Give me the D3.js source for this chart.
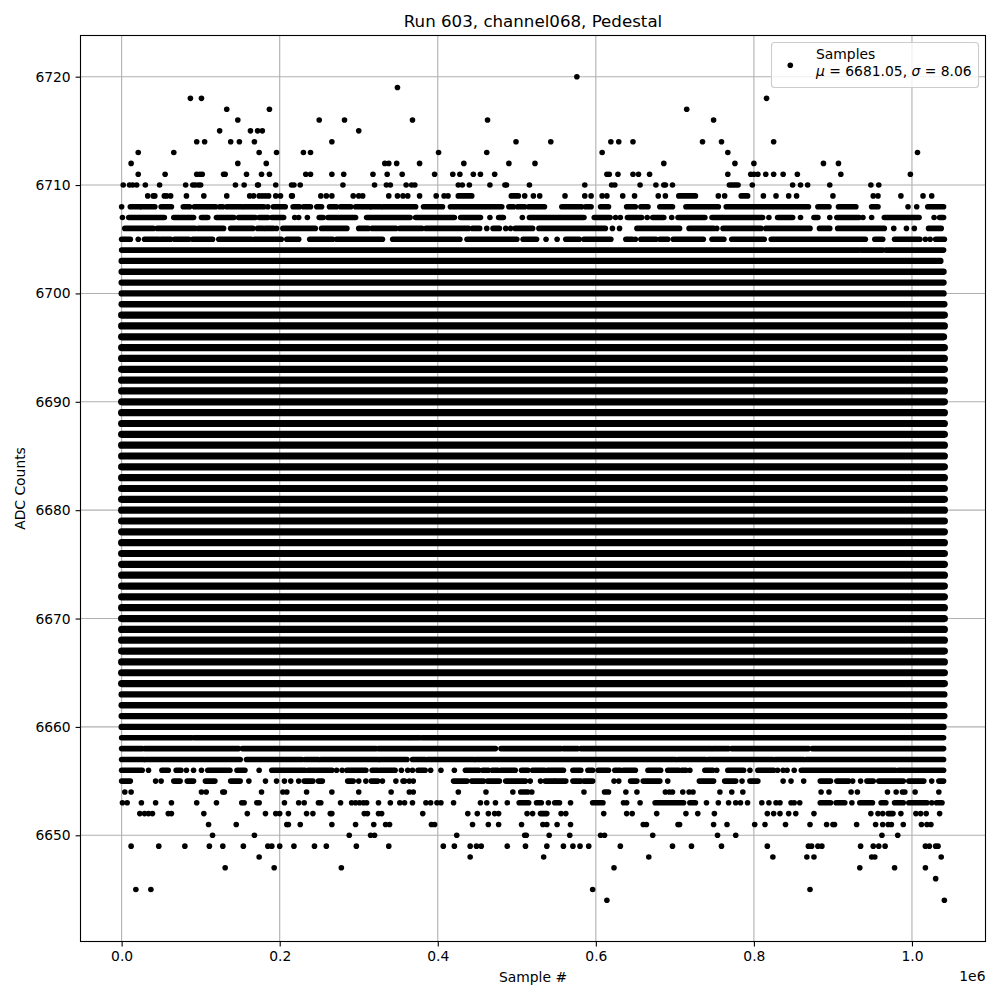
<!DOCTYPE html>
<html>
<head>
<meta charset="utf-8">
<script src="https://cdn.jsdelivr.net/npm/d3@7"></script>
<style>
  body { margin: 0; background: #fff; }
  text { font-family: "DejaVu Sans"; fill: #000; }
</style>
</head>
<body>
<div id="chart"></div>
<script>
// sample positions are in thousands of samples
var xTicks = [0, 200, 400, 600, 800, 1000];
var xTickLabels = ['0.0', '0.2', '0.4', '0.6', '0.8', '1.0'];
var yTicks = [6650, 6660, 6670, 6680, 6690, 6700, 6710, 6720];
var xLimits = [-52.05, 1093.05];
var yLimits = [6640.2, 6723.8];

var titleText = 'Run 603, channel068, Pedestal';
var xLabel = 'Sample #';
var yLabel = 'ADC Counts';
var seriesName = 'Samples';

// levels where the samples merge into a solid band: [level, first, last]
var solidRows = [
  [6703, 0, 1036], [6702, 0, 1040], [6701, 0, 1040], [6700, 0, 1040],
  [6699, 0, 1041], [6698, 0, 1041], [6697, 0, 1041], [6696, 0, 1040],
  [6695, 0, 1041], [6694, 0, 1041], [6693, 0, 1041], [6692, 0, 1041],
  [6691, 0, 1041], [6690, 0, 1041], [6689, 0, 1041], [6688, 0, 1041],
  [6687, 0, 1041], [6686, 0, 1041], [6685, 0, 1041], [6684, 0, 1041],
  [6683, 0, 1041], [6682, 0, 1041], [6681, 0, 1041], [6680, 0, 1041],
  [6679, 0, 1041], [6678, 0, 1041], [6677, 0, 1041], [6676, 0, 1041],
  [6675, 0, 1041], [6674, 0, 1041], [6673, 0, 1041], [6672, 0, 1041],
  [6671, 0, 1041], [6670, 0, 1041], [6669, 0, 1041], [6668, 0, 1041],
  [6667, 0, 1041], [6666, 0, 1041], [6665, 0, 1041], [6664, 0, 1041],
  [6663, 0, 1041], [6662, 0, 1041], [6661, 0, 1041], [6660, 0, 1040]
];

// rows on the fringe: a number is one sample, a pair is a run of touching samples
var upperRows = [
  [6720, [576]],
  [6719, [349]],
  [6718, [87, 101, 816]],
  [6717, [133, 187, 715]],
  [6716, [147, 250, 282, 368, 463, 749]],
  [6715, [124, 163, 172, 178, 300]],
  [6714, [95, 105, 138, 149, 168, 266, 499, 543, 619, 629, 647, 735, 759, 825]],
  [6713, [21, 66, 174, 196, 230, 239, 401, 462, 608, 767, 1007]],
  [6712, [12, 147, 183, 333, 338, 348, 377, 433, 490, 523, 686, 776, 800, 888, 907]],
  [6711, [21, 55, 95, 99, 102, 129, 131, 158, 177, 187, 233, 239, 266, 281, 318, 336, 355, 396, 419, 428, 445, 454, 472, 614, 617, 628, 647, 654, 668, 767, 796, 800, 805, 815, 825, 837, 855, 910, 998]],
  [6710, [2, 10, 14, 19, 30, 48, 81, 90, 93, 97, 100, 144, 155, 172, 173, 195, 215, 218, 226, 280, 320, 335, 340, 360, 367, 371, 426, 431, 440, 466, 485, 487, 516, 586, 620, 624, 656, 676, 686, 688, 697, [769, 780], 798, 849, 859, 868, 896, 948, 958]],
  [6709, [33, 40, 42, 54, 57, 62, 82, 104, 133, 162, 167, 174, 178, 182, 186, 195, 201, 215, 216, 252, 259, 266, 293, 300, 305, 338, 349, 356, 362, 377, 398, 408, 413, [426, 443], [493, 502], 510, 521, 529, 561, 586, 594, 608, 614, 634, 649, 679, 688, [705, 726], 755, 763, [784, 792], 812, 828, 844, 854, 900, 951, 957, 986, 1014, 1025]],
  [6708, [0, [11, 23], [25, 42], [50, 63], [78, 86], [92, 119], [124, 128], [133, 152], [155, 180], 185, [192, 207], [217, 225], [230, 239], [247, 253], [263, 272], [277, 290], [296, 314], [316, 328], [331, 372], [382, 406], [416, 481], [490, 496], [501, 510], [515, 535], [557, 582], [587, 594], [606, 616], [639, 650], [657, 666], [681, 697], [714, 755], [765, 869], [881, 895], [907, 929], [949, 957], 995, 1006, [1020, 1040]]],
  [6707, [1, [9, 54], [66, 91], [101, 109], [120, 142], [148, 169], [174, 185], [190, 205], 219, 224, 235, [250, 255], [261, 296], [310, 365], [372, 421], [429, 454], 466, [477, 483], 507, [516, 585], [598, 618], 625, 631, [640, 658], 665, [672, 686], 696, [704, 738], [747, 811], 819, [830, 849], 859, [876, 881], 896, [905, 933], 938, 949, [965, 1009], 1028, [1035, 1040]]],
  [6706, [[4, 40], [45, 93], [97, 129], [138, 166], [172, 179], [182, 192], 196, [204, 245], [253, 285], [300, 312], [317, 347], [352, 380], [385, 439], [444, 453], 462, [470, 478], 486, 492, [498, 520], [528, 612], 621, 630, [652, 706], [718, 749], 753, [761, 809], [815, 871], [883, 896], [906, 965], 977, 993, 1003, [1021, 1037]]],
  [6705, [[0, 11], 21, [29, 47], [50, 62], [67, 85], [90, 115], [123, 164], [168, 202], [209, 224], [238, 267], [272, 330], [343, 428], [437, 500], [508, 525], 537, 551, [562, 579], [585, 619], [638, 646], 650, [657, 676], [681, 691], [698, 736], [747, 762], [772, 813], [822, 907], [909, 941], [953, 963], [978, 1010], 1017, 1023, [1030, 1041]]],
  [6704, [[0, 933], [936, 963], [967, 1040]]]
];

var lowerRows = [
  [6659, [[0, 89], [92, 364], [366, 377], [380, 1040]]],
  [6658, [[0, 26], [29, 148], [153, 322], [325, 473], [480, 556], [559, 577], [581, 746], [748, 768], [772, 869], [874, 1040]]],
  [6657, [[0, 28], [30, 150], [158, 228], [232, 249], [252, 325], [327, 361], [368, 384], [387, 446], [448, 701], [704, 739], [742, 824], [827, 863], [866, 1040]]],
  [6656, [[0, 26], 34, [51, 59], [69, 75], 82, 91, 101, [109, 137], [146, 156], 174, [190, 232], [236, 266], 272, 279, [285, 309], [317, 324], [327, 346], 354, 362, 368, [375, 384], 391, 404, 421, [435, 452], [457, 464], [469, 476], [480, 498], [506, 514], [520, 535], [539, 559], [571, 581], [590, 596], [603, 616], [624, 631], [635, 650], [666, 682], [691, 705], [709, 714], 719, [738, 748], 753, [767, 787], 795, [805, 825], 830, 837, 842, 851, [860, 979], [983, 1040]]],
  [6655, [[0, 11], 43, 50, [66, 74], [83, 91], [106, 118], [138, 150], 161, 182, 196, 206, 214, 224, [231, 242], [249, 254], [286, 293], 300, 309, [316, 324], 330, 347, 356, 358, 364, 369, [420, 437], [443, 458], [463, 478], [486, 511], 517, 530, [536, 547], [549, 562], [571, 581], [585, 596], 623, 629, [644, 652], [660, 681], 691, [731, 749], [763, 777], 785, [795, 805], 837, 847, 863, [884, 897], [905, 920], 925, 935, [943, 951], [958, 989], [996, 1015], 1025, [1034, 1040]]],
  [6654, [4, 12, 101, 107, 128, 130, 177, 204, 209, 234, 266, 300, 341, 364, 369, 426, 461, 495, [505, 514], 519, 585, [611, 616], 638, 652, 688, 693, 697, 710, 718, 723, 757, 772, 786, 885, 895, 923, 931, 969, 980, 988, 991, 1004, 1034]],
  [6653, [1, 7, 25, 43, 63, 95, 120, 152, 155, 171, 174, 206, 224, 231, 249, 252, 277, 291, 296, 301, 306, 310, 325, 340, 352, 358, 368, 385, 391, 399, 404, 420, 454, 462, 473, 488, [503, 515], [525, 531], 540, [548, 554], 568, [596, 609], 635, 639, 656, [675, 711], [719, 726], 740, 755, 768, 777, 783, 792, 810, 819, 828, 833, 847, 851, 858, [884, 897], [904, 915], 924, [934, 950], [961, 967], [978, 989], [996, 1019], 1025, [1031, 1038]]],
  [6652, [23, 29, 34, 39, 59, 63, 104, 159, 182, 195, 200, 211, 234, 242, 264, 266, 307, 311, 325, 329, 381, 438, 450, 464, 472, 477, 513, 520, [530, 538], 556, 562, 610, 639, 646, 677, 714, 729, 750, 817, 825, 833, 844, 853, 876, 948, 957, 963, [970, 976], 986, 1005, 1011, 1018, 1035]],
  [6651, [110, 145, 209, 211, 226, 266, 296, 319, 334, 339, 392, 396, 444, 464, 477, 506, 533, 538, 551, 568, 660, 664, 704, 706, 749, 766, 801, 814, 840, 871, 892, 900, 902, 930, 954, 963, 970, 974, 989, 1012, 1019, 1024]],
  [6650, [115, 168, 288, 315, 320, 424, 510, 512, 541, 567, 606, 611, 672, 754, 777, 962, 982]],
  [6649, [12, 47, 80, 111, 128, 154, 185, 190, 200, 218, 244, 259, 297, 338, 407, 421, 441, 449, 455, 488, 511, 538, 559, 571, 580, 591, 631, 697, 721, 759, 817, 869, 873, 881, 886, 935, 951, 958, 966, 1017, 1022, 1030, 1033]],
  [6648, [174, 441, 534, 667, 824, 867, 876, 949, 953, 1037]],
  [6647, [131, 193, 278, 623, 934, 978, 1017]],
  [6646, [1030]],
  [6645, [18, 37, 596, 871]],
  [6644, [614, 1041]]
];

var svg = d3.select('#chart').append('svg')
  .attr('width', 1000)
  .attr('height', 1000);

var plotLeft = 80.5, plotRight = 985.5, plotTop = 35.5, plotBottom = 941.5;

var x = d3.scaleLinear().domain(xLimits).range([plotLeft, plotRight]);
var y = d3.scaleLinear().domain(yLimits).range([plotBottom, plotTop]);

var gridLayer = svg.append('g');
var markLayer = svg.append('g');
var axisLayer = svg.append('g');
var legendLayer = svg.append('g');

gridLayer.selectAll('line.vgrid').data(xTicks)
  .enter().append('line')
  .attr('class', 'vgrid')
  .attr('x1', function(d) { return x(d); })
  .attr('x2', function(d) { return x(d); })
  .attr('y1', plotTop)
  .attr('y2', plotBottom);

gridLayer.selectAll('line.hgrid').data(yTicks)
  .enter().append('line')
  .attr('class', 'hgrid')
  .attr('x1', plotLeft)
  .attr('x2', plotRight)
  .attr('y1', function(d) { return y(d); })
  .attr('y2', function(d) { return y(d); });

gridLayer.selectAll('line')
  .attr('stroke', '#b0b0b0')
  .attr('stroke-width', 1.1);

markLayer.selectAll('line.solid').data(solidRows)
  .enter().append('line')
  .attr('class', 'solid')
  .attr('x1', function(d) { return x(d[1]); })
  .attr('x2', function(d) { return x(d[2]); })
  .attr('y1', function(d) { return y(d[0]); })
  .attr('y2', function(d) { return y(d[0]); })
  .attr('stroke', '#000')
  .attr('stroke-linecap', 'round')
  .attr('stroke-width', function(d) { return d[0] > 6698 || d[0] < 6664 ? 6.3 : 7.2; });

// split the fringe rows into single samples and runs
var points = [];
var runs = [];
upperRows.concat(lowerRows).forEach(function(row) {
  row[1].forEach(function(m) {
    if (Array.isArray(m)) {
      runs.push({ level: row[0], first: m[0], last: m[1] });
    } else {
      points.push({ level: row[0], sample: m });
    }
  });
});

markLayer.selectAll('line.run').data(runs)
  .enter().append('line')
  .attr('class', 'run')
  .attr('x1', function(d) { return x(d.first); })
  .attr('x2', function(d) { return x(d.last); })
  .attr('y1', function(d) { return y(d.level); })
  .attr('y2', function(d) { return y(d.level); })
  .attr('stroke', '#000')
  .attr('stroke-linecap', 'round')
  .attr('stroke-width', 5.6);

markLayer.selectAll('circle').data(points)
  .enter().append('circle')
  .attr('cx', function(d) { return x(d.sample); })
  .attr('cy', function(d) { return y(d.level); })
  .attr('r', 2.8)
  .attr('fill', '#000');

var xAxis = d3.axisBottom(x)
  .tickValues(xTicks)
  .tickFormat(function(d, i) { return xTickLabels[i]; })
  .tickSize(4.9)
  .tickPadding(4.9);

var yAxis = d3.axisLeft(y)
  .tickValues(yTicks)
  .tickFormat(d3.format('d'))
  .tickSize(4.9)
  .tickPadding(4.9);

var gx = axisLayer.append('g')
  .attr('transform', 'translate(0,' + plotBottom + ')')
  .call(xAxis);
var gy = axisLayer.append('g')
  .attr('transform', 'translate(' + plotLeft + ',0)')
  .call(yAxis);

[gx, gy].forEach(function(g) {
  g.select('.domain').remove();
  g.selectAll('.tick line').attr('stroke', '#000').attr('stroke-width', 1.1);
  g.selectAll('.tick text')
    .attr('fill', '#000')
    .style('font-size', '13.89px')
    .style('font-family', '"DejaVu Sans"');
});

axisLayer.append('rect')
  .attr('x', plotLeft)
  .attr('y', plotTop)
  .attr('width', plotRight - plotLeft)
  .attr('height', plotBottom - plotTop)
  .attr('fill', 'none')
  .attr('stroke', '#000')
  .attr('stroke-width', 1.1);

svg.append('text')
  .attr('x', (plotLeft + plotRight) / 2)
  .attr('y', 27)
  .attr('text-anchor', 'middle')
  .style('font-size', '16.67px')
  .text(titleText);

svg.append('text')
  .attr('x', (plotLeft + plotRight) / 2)
  .attr('y', 982)
  .attr('text-anchor', 'middle')
  .style('font-size', '13.89px')
  .text(xLabel);

svg.append('text')
  .attr('transform', 'translate(25,488.5) rotate(-90)')
  .attr('text-anchor', 'middle')
  .style('font-size', '13.89px')
  .text(yLabel);

svg.append('text')
  .attr('x', plotRight)
  .attr('y', 981)
  .attr('text-anchor', 'end')
  .style('font-size', '13.89px')
  .text('1e6');

// legend
legendLayer.append('rect')
  .attr('x', 771.5)
  .attr('y', 42.5)
  .attr('width', 207)
  .attr('height', 45)
  .attr('rx', 3)
  .attr('fill', '#fff')
  .attr('fill-opacity', 0.8)
  .attr('stroke', '#ccc')
  .attr('stroke-width', 1.1);

legendLayer.append('circle')
  .attr('cx', 790.3)
  .attr('cy', 65.3)
  .attr('r', 2.8)
  .attr('fill', '#000');

legendLayer.append('text')
  .attr('x', 816)
  .attr('y', 59.3)
  .style('font-size', '13.89px')
  .text(seriesName);

var statsLine = legendLayer.append('text')
  .attr('x', 816)
  .attr('y', 76.3)
  .style('font-size', '13.89px');
statsLine.append('tspan').style('font-style', 'italic').text('\u03bc');
statsLine.append('tspan').text(' = 6681.05, ');
statsLine.append('tspan').style('font-style', 'italic').text('\u03c3');
statsLine.append('tspan').text(' = 8.06');
</script>
</body>
</html>
